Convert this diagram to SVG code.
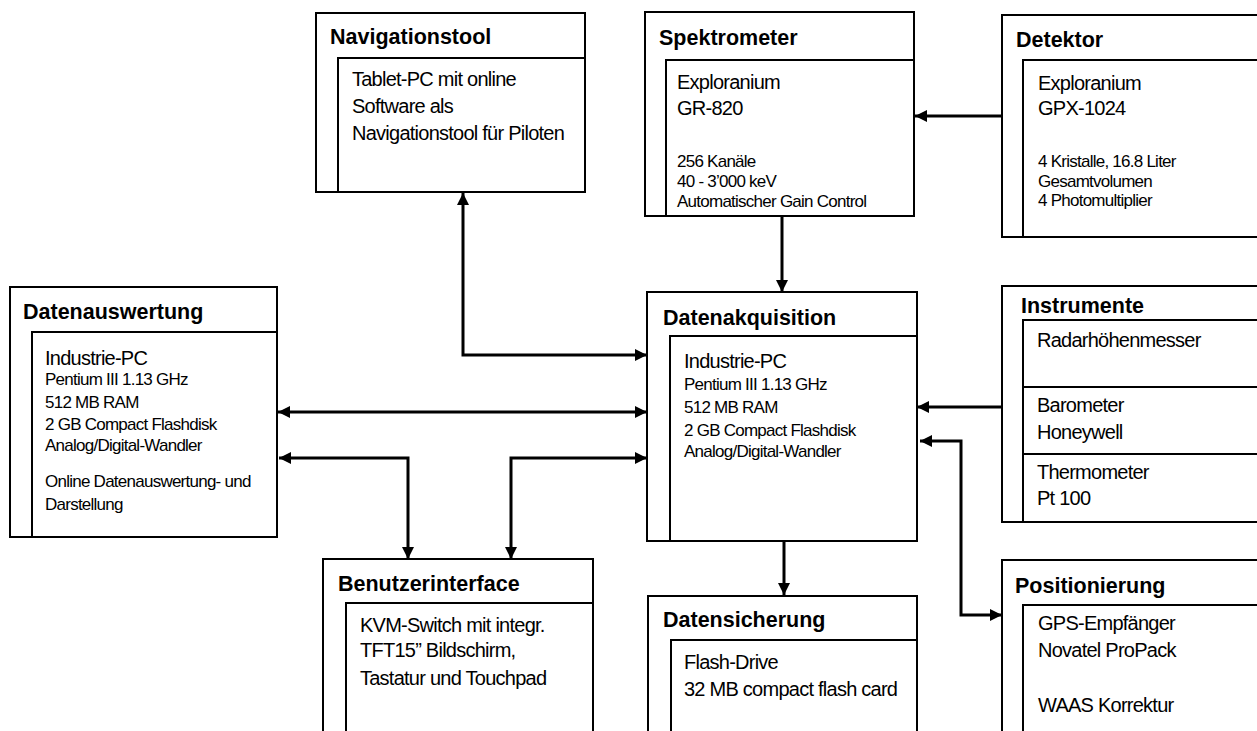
<svg xmlns="http://www.w3.org/2000/svg" width="1257" height="731" viewBox="0 0 1257 731">
<defs>
<style>
.box{fill:#fff;stroke:#000;stroke-width:2}
.in{fill:none;stroke:#000;stroke-width:2}
.t{font-family:"Liberation Sans",Arial,sans-serif;font-weight:bold;font-size:21.5px;fill:#000}
.b{font-family:"Liberation Sans",Arial,sans-serif;font-size:20px;letter-spacing:-0.75px;fill:#000}
.s{font-family:"Liberation Sans",Arial,sans-serif;font-size:17px;letter-spacing:-0.75px;fill:#000}
.c{fill:none;stroke:#000;stroke-width:3}
</style>
<marker id="ah" markerUnits="userSpaceOnUse" markerWidth="12" markerHeight="12" refX="12" refY="6" orient="auto-start-reverse" viewBox="0 0 12 12">
<path d="M0,0 L12,6 L0,12 z" fill="#000"/>
</marker>
</defs>
<rect width="1257" height="731" fill="#fff"/>

<g id="navigationstool">
<rect class="box" x="316" y="13" width="269" height="179"/>
<rect class="in" x="338" y="58" width="247" height="134"/>
<text class="t" x="330" y="44">Navigationstool</text>
<text class="b" x="352" y="86">Tablet-PC mit online</text>
<text class="b" x="352" y="113">Software als</text>
<text class="b" x="352" y="140">Navigationstool für Piloten</text>
</g>

<g id="spektrometer">
<rect class="box" x="645" y="12" width="269" height="204"/>
<rect class="in" x="666" y="60" width="248" height="156"/>
<text class="t" x="659" y="45">Spektrometer</text>
<text class="b" x="677" y="89">Exploranium</text>
<text class="b" x="677" y="115">GR-820</text>
<text class="s" x="677" y="167">256 Kanäle</text>
<text class="s" x="677" y="187">40 - 3’000 keV</text>
<text class="s" x="677" y="207">Automatischer Gain Control</text>
</g>

<g id="detektor">
<rect class="box" x="1002" y="15" width="270" height="222"/>
<rect class="in" x="1023" y="60" width="250" height="177"/>
<text class="t" x="1016" y="47">Detektor</text>
<text class="b" x="1038" y="90">Exploranium</text>
<text class="b" x="1038" y="115">GPX-1024</text>
<text class="s" x="1038" y="167">4 Kristalle, 16.8 Liter</text>
<text class="s" x="1038" y="187">Gesamtvolumen</text>
<text class="s" x="1038" y="206">4 Photomultiplier</text>
</g>

<g id="datenauswertung">
<rect class="box" x="10" y="287" width="267" height="250"/>
<rect class="in" x="32" y="332" width="245" height="205"/>
<text class="t" x="23" y="319">Datenauswertung</text>
<text class="b" x="45" y="365">Industrie-PC</text>
<text class="s" x="45" y="385">Pentium III 1.13 GHz</text>
<text class="s" x="45" y="408">512 MB RAM</text>
<text class="s" x="45" y="430">2 GB Compact Flashdisk</text>
<text class="s" x="45" y="451">Analog/Digital-Wandler</text>
<text class="s" x="45" y="487">Online Datenauswertung- und</text>
<text class="s" x="45" y="510">Darstellung</text>
</g>

<g id="datenakquisition">
<rect class="box" x="647" y="292" width="270" height="249"/>
<rect class="in" x="670" y="336" width="247" height="205"/>
<text class="t" x="663" y="325">Datenakquisition</text>
<text class="b" x="684" y="368">Industrie-PC</text>
<text class="s" x="684" y="390">Pentium III 1.13 GHz</text>
<text class="s" x="684" y="413">512 MB RAM</text>
<text class="s" x="684" y="436">2 GB Compact Flashdisk</text>
<text class="s" x="684" y="457">Analog/Digital-Wandler</text>
</g>

<g id="instrumente">
<rect class="box" x="1002" y="286" width="270" height="236"/>
<rect class="in" x="1023" y="320" width="250" height="202"/>
<line class="in" x1="1023" y1="387" x2="1273" y2="387"/>
<line class="in" x1="1023" y1="454" x2="1273" y2="454"/>
<text class="t" x="1021" y="313">Instrumente</text>
<text class="b" x="1037" y="347">Radarhöhenmesser</text>
<text class="b" x="1037" y="412">Barometer</text>
<text class="b" x="1037" y="439">Honeywell</text>
<text class="b" x="1037" y="479">Thermometer</text>
<text class="b" x="1037" y="505">Pt 100</text>
</g>

<g id="benutzerinterface">
<rect class="box" x="323" y="559" width="270" height="190"/>
<rect class="in" x="346" y="603" width="247" height="146"/>
<text class="t" x="338" y="591">Benutzerinterface</text>
<text class="b" x="360" y="632">KVM-Switch mit integr.</text>
<text class="b" x="360" y="657">TFT15” Bildschirm,</text>
<text class="b" x="360" y="685">Tastatur und Touchpad</text>
</g>

<g id="datensicherung">
<rect class="box" x="648" y="596" width="269" height="153"/>
<rect class="in" x="671" y="640" width="246" height="109"/>
<text class="t" x="663" y="627">Datensicherung</text>
<text class="b" x="684" y="669">Flash-Drive</text>
<text class="b" x="684" y="696">32 MB compact flash card</text>
</g>

<g id="positionierung">
<rect class="box" x="1002" y="560" width="270" height="190"/>
<rect class="in" x="1023" y="605" width="250" height="145"/>
<text class="t" x="1015" y="593">Positionierung</text>
<text class="b" x="1038" y="630">GPS-Empfänger</text>
<text class="b" x="1038" y="657">Novatel ProPack</text>
<text class="b" x="1038" y="712">WAAS Korrektur</text>
</g>

<g id="connectors">
<path class="c" d="M463,193 V355 H647" marker-start="url(#ah)" marker-end="url(#ah)"/>
<path class="c" d="M278,412 H647" marker-start="url(#ah)" marker-end="url(#ah)"/>
<path class="c" d="M279,458 H408 V559" marker-start="url(#ah)" marker-end="url(#ah)"/>
<path class="c" d="M647,458 H511 V559" marker-start="url(#ah)" marker-end="url(#ah)"/>
<path class="c" d="M1002,116 H915" marker-end="url(#ah)"/>
<path class="c" d="M782,216 V292" marker-end="url(#ah)"/>
<path class="c" d="M784,541 V595" marker-end="url(#ah)"/>
<path class="c" d="M1002,407 H917" marker-end="url(#ah)"/>
<path class="c" d="M920,441 H961 V615 H1002" marker-start="url(#ah)" marker-end="url(#ah)"/>
</g>
</svg>
